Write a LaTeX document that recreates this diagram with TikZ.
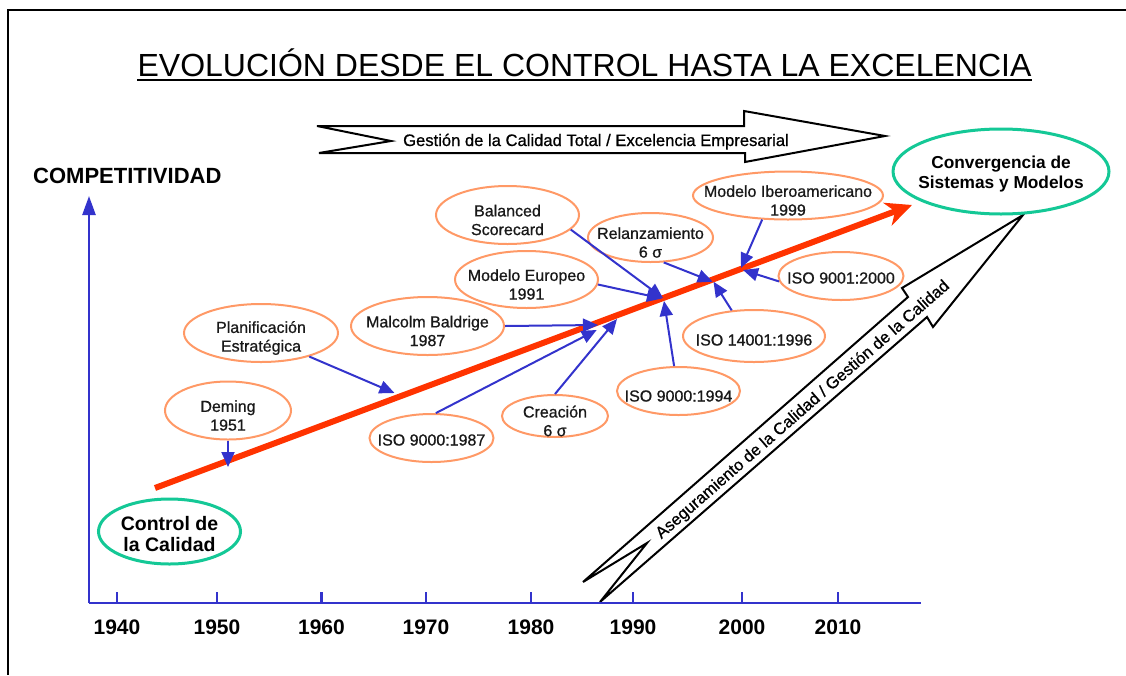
\documentclass[tikz,border=0pt]{standalone}
\usepackage{fontspec}
\setmainfont{Liberation Sans}
\newfontfamily\medio[FakeBold=0.8]{Liberation Sans}
\usetikzlibrary{shapes.geometric,arrows.meta}
\definecolor{naranja}{RGB}{255,153,102}
\definecolor{verdeagua}{RGB}{20,200,150}
\definecolor{azulflecha}{RGB}{51,51,204}
\definecolor{rojolinea}{RGB}{255,51,0}

\begin{document}
\begin{tikzpicture}[x=1pt,y=-1pt,
	hito/.style={draw=naranja,line width=2pt,ellipse,inner sep=0pt,fill=white},
	meta/.style={draw=verdeagua,line width=3pt,ellipse,inner sep=0pt,fill=white},
	texto hito/.style={align=center,yshift=-5pt,text=black!90,font=\medio\fontsize{16}{18.7}\selectfont},
	texto meta/.style={align=center,yshift=-2.5pt},
	flecha/.style={draw=azulflecha,line width=2pt,-{Triangle[length=15pt,width=13pt]}},
	eje/.style={draw=azulflecha,line width=2.5pt},
	bloque/.style={draw=black,line width=2pt,fill=white},
	anio/.style={font=\bfseries\fontsize{21}{24}\selectfont,inner sep=0pt}]
	\useasboundingbox (0,0) rectangle (1126,675);
	\draw[line width=2pt] (1126,10) -- (8,10) -- (8,675);
	
	\node[anchor=base,inner sep=0pt,font=\fontsize{32}{36}\selectfont] (titulo) at (584.5,76) {EVOLUCIÓN DESDE EL CONTROL HASTA LA EXCELENCIA};
	\draw[line width=2pt] ([yshift=-4pt]titulo.base west) -- ([yshift=-4pt]titulo.base east);
	
	% flechas de bloque
	\draw[bloque] (317,126) -- (744,126) -- (744,111) -- (885,136) -- (745,162) -- (745,153) -- (319,153) -- (391,141) -- cycle;
	\node[anchor=base,font=\medio\fontsize{16.6}{19}\selectfont] (gestion) at (596,146) {Gestión de la Calidad Total / Excelencia Empresarial};
	\draw[bloque] (583,582) -- (908,297) -- (902,288) -- (1023,215) -- (933,327) -- (927,317) -- (600,602) -- (647,543) -- cycle;
	\node[rotate=41.1,font=\medio\fontsize{16.5}{19}\selectfont] (asegura) at (803,410) {Aseguramiento de la Calidad / Gestión de la Calidad};
	
	% ejes
	\coordinate (origen) at (89,603);
	\coordinate (xfin) at (921,603);
	\coordinate (yfin) at (89,196);
	\draw[eje] (origen) -- (xfin);
	\draw[eje,-{Triangle[length=19pt,width=13pt]}] (origen) -- (yfin);
	\foreach \t/\a in {117/1940,217/1950,321.5/1960,426/1970,531/1980,633/1990,742/2000,838/2010}{
		\draw[eje] (\t,603) -- (\t,592);
		\node[anio,anchor=base] (a\a) at (\t,634) {\a};
	}
	\node[anchor=base west,inner sep=0pt,font=\bfseries\fontsize{22}{24}\selectfont] (compet) at (33,183) {COMPETITIVIDAD};
	
	% linea roja
	\coordinate (rojoini) at (155,488);
	\coordinate (rojofin) at (912,205);
	\draw[rojolinea,line width=6pt,-{Stealth[length=26pt,width=24pt,inset=8pt]}] (rojoini) -- (rojofin);
	
	% hitos
	\node[hito,minimum width=126,minimum height=58,label={[texto hito]center:{Deming\\1951}}] (deming) at (228,410.5) {};
	\node[hito,minimum width=154,minimum height=58,label={[texto hito]center:{Planificación\\Estratégica}}] (plan) at (261,333) {};
	\node[hito,minimum width=153,minimum height=58,label={[texto hito]center:{Malcolm Baldrige\\1987}}] (malcolm) at (427.5,326) {};
	\node[hito,minimum width=143,minimum height=58,label={[texto hito]center:{Balanced\\Scorecard}}] (balanced) at (507.5,215) {};
	\node[hito,minimum width=143,minimum height=57,label={[texto hito]center:{Modelo Europeo\\1991}}] (europeo) at (526.5,279.5) {};
	\node[hito,minimum width=125,minimum height=49,label={[texto hito]center:{Relanzamiento\\6 σ}}] (relanz) at (650.5,237.5) {};
	\node[hito,minimum width=190,minimum height=48,label={[texto hito]center:{Modelo Iberoamericano\\1999}}] (ibero) at (788,195.5) {};
	\node[hito,minimum width=125,minimum height=48,label={[texto hito,yshift=3pt]center:{ISO 9001:2000}}] (iso2000) at (841,276) {};
	\node[hito,minimum width=142,minimum height=52,label={[texto hito,yshift=1pt]center:{ISO 14001:1996}}] (iso14) at (754,336) {};
	\node[hito,minimum width=123,minimum height=48,label={[texto hito]center:{ISO 9000:1994}}] (iso94) at (678.5,391) {};
	\node[hito,minimum width=106,minimum height=42,label={[texto hito]center:{Creación\\6 σ}}] (crea) at (555,416) {};
	\node[hito,minimum width=124,minimum height=48,label={[texto hito,yshift=3pt]center:{ISO 9000:1987}}] (iso87) at (431.5,438) {};
	
	\node[meta,minimum width=142,minimum height=65,label={[texto meta,font=\bfseries\fontsize{19.5}{21.5}\selectfont]center:{Control de\\la Calidad}}] (control) at (169.5,531.5) {};
	\node[meta,minimum width=216,minimum height=85,label={[texto meta,font=\bfseries\fontsize{17.3}{20}\selectfont]center:{Convergencia de\\Sistemas y Modelos}}] (conv) at (1001,171.5) {};
	
	% flechas azules
	\coordinate (pdeming) at (228,467);
	\coordinate (pplan) at (394.5,393);
	\coordinate (pmalcolm) at (598,325);
	\coordinate (piso87) at (596.7,330);
	\coordinate (pcrea) at (617,319);
	\coordinate (peuropeo) at (662,298.5);
	\coordinate (pbalanced) at (663,298);
	\coordinate (piso94) at (664,301);
	\coordinate (prelanz) at (712.7,281.7);
	\coordinate (piso14) at (713.5,281.7);
	\coordinate (pibero) at (741,268);
	\coordinate (piso2000) at (743,270);
	\draw[flecha] (deming.south) -- (pdeming);
	\draw[flecha] (plan.-26) -- (pplan);
	\draw[flecha] (malcolm.east) -- (pmalcolm);
	\draw[flecha] (iso87.80) -- (piso87);
	\draw[flecha] (crea.north) -- (pcrea);
	\draw[flecha] (europeo.-4) -- (peuropeo);
	\draw[flecha] (balanced.-13) -- (pbalanced);
	\draw[flecha] (iso94.100) -- (piso94);
	\draw[flecha] (relanz.-62) -- (prelanz);
	\draw[flecha] (iso14.131) -- (piso14);
	\draw[flecha] (ibero.223) -- (pibero);
	\draw[flecha] (iso2000.185) -- (piso2000);
\end{tikzpicture}
\end{document}
